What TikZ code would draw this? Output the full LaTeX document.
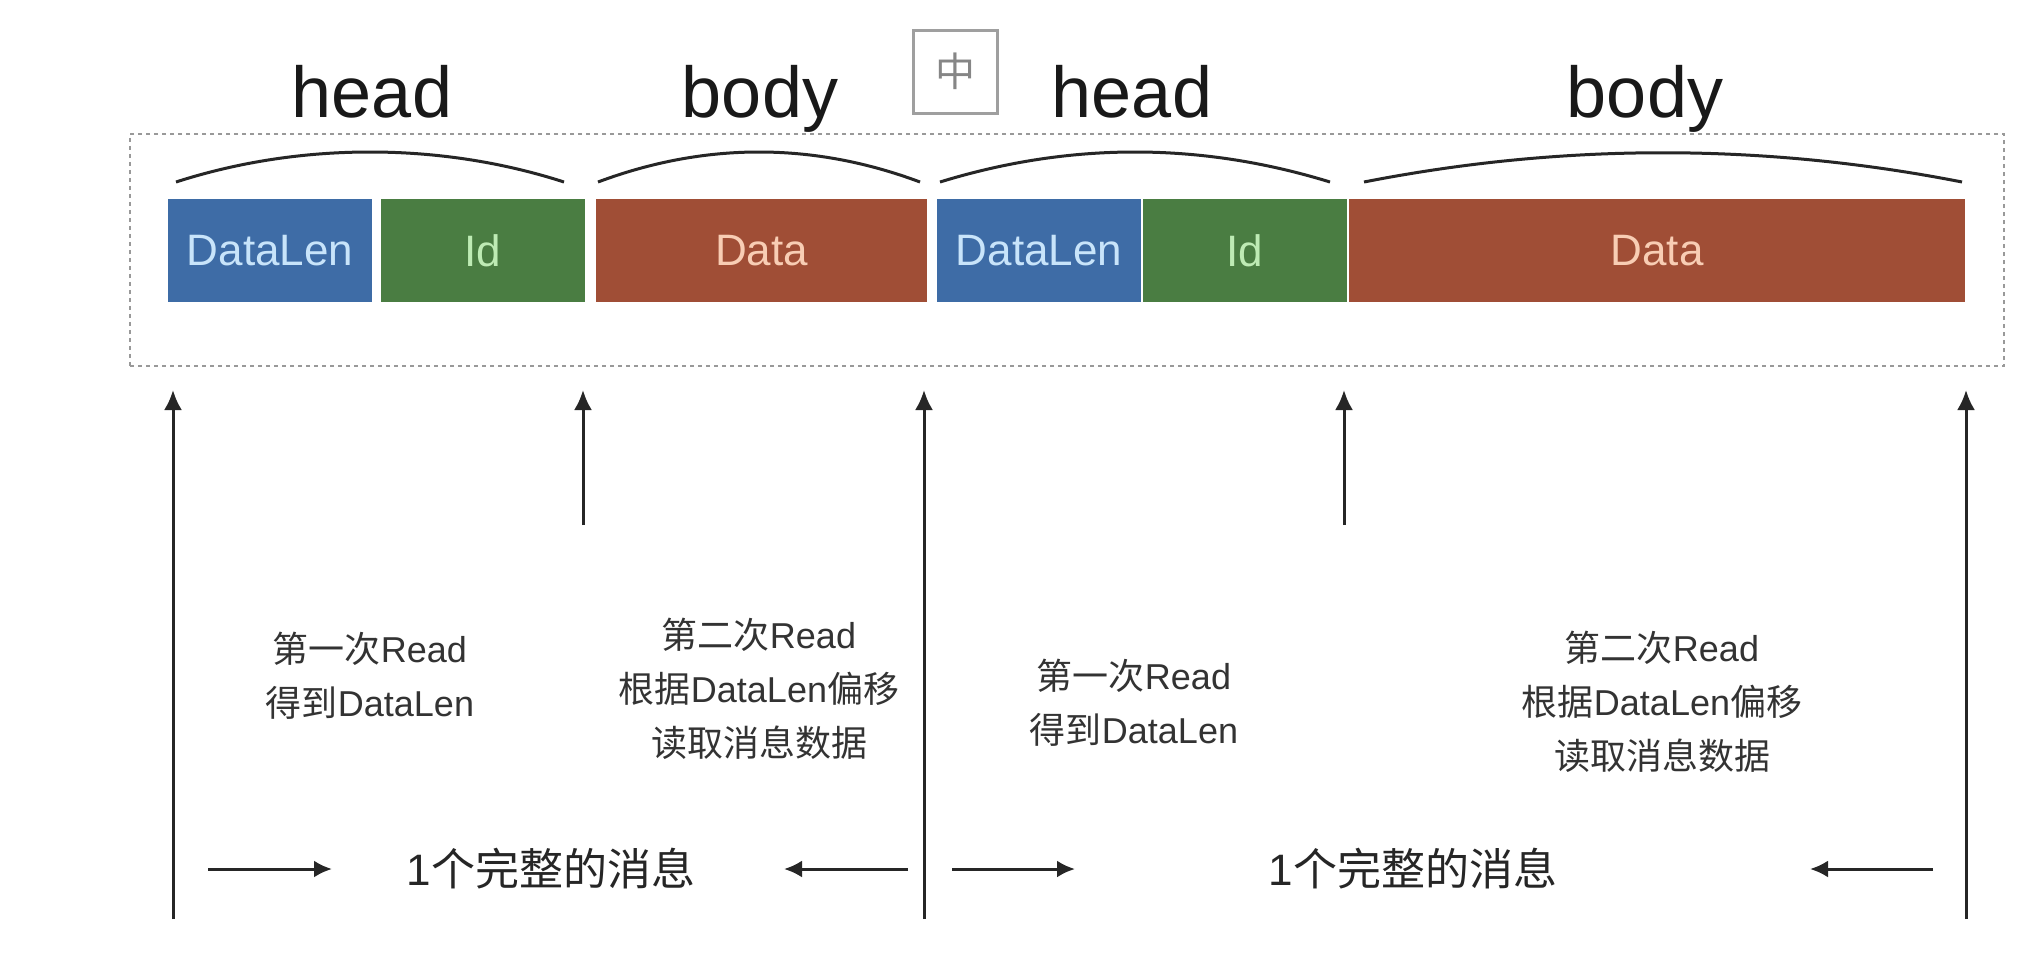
\documentclass[tikz,border=0pt]{standalone}
\usepackage{fontspec}
\setmainfont{Liberation Sans}
\newfontfamily\cjk{Noto Sans CJK SC}
\usetikzlibrary{arrows.meta}
\definecolor{cblue}{RGB}{62,108,166}
\definecolor{cgreen}{RGB}{74,125,66}
\definecolor{cred}{RGB}{160,78,54}
\definecolor{tblue}{RGB}{200,228,250}
\definecolor{tgreen}{RGB}{190,235,180}
\definecolor{tred}{RGB}{248,205,180}
\begin{document}
\begin{tikzpicture}[x=1pt,y=-1pt,
  seg/.style={inner sep=0pt, minimum height=103pt, font=\fontsize{44}{50}\selectfont},
  bl/.style={seg, fill=cblue, text=tblue},
  gr/.style={seg, fill=cgreen, text=tgreen},
  rd/.style={seg, fill=cred, text=tred},
  ttl/.style={font=\fontsize{72}{80}\selectfont, text=black!90, anchor=base},
  arcline/.style={line width=3pt, black!85},
  uparr/.style={line width=3pt, black!85, -{Latex[length=20pt,width=18pt]}},
  harr/.style={line width=3pt, black!85, -{Latex[length=18pt,width=17pt]}},
  lbl/.style={align=center, font=\fontsize{36}{54}\selectfont, text=black!80},
  msg/.style={font=\fontsize{44}{50}\selectfont, text=black!85}
]
\useasboundingbox (0,0) rectangle (2044,964);
\fill[white] (0,0) rectangle (2044,964);

% frame
\node (frame) [draw=gray!80, dash pattern=on 4pt off 4pt, line width=2pt,
  minimum width=1874pt, minimum height=232pt, inner sep=0pt] at (1067,250) {};

% titles
\node[ttl] (h1) at (372,117) {head};
\node[ttl] (b1) at (760,117) {body};
\node[ttl] (h2) at (1132,117) {head};
\node[ttl] (b2) at (1645,117) {body};
\node (ime) [draw=gray!75, line width=3pt, minimum width=84pt, minimum height=83pt, inner sep=0pt,
  text=gray!95, font=\cjk\fontsize{40}{40}\selectfont] at (955.5,71.5) {中};

% arcs
\draw[arcline] (176,182) .. controls (300,142) and (440,142) .. (564,182);
\draw[arcline] (598,182) .. controls (705,142) and (813,142) .. (920,182);
\draw[arcline] (940,182) .. controls (1070,142) and (1200,142) .. (1330,182);
\draw[arcline] (1364,182) .. controls (1563,143) and (1763,143) .. (1962,182);

% segments
\node[bl, minimum width=204pt] (dl1) at (270,250.5) {DataLen};
\node[gr, minimum width=204pt] (id1) at (483,250.5) {Id};
\node[rd, minimum width=331pt] (d1) at (761.5,250.5) {Data};
\node[bl, minimum width=204pt] (dl2) at (1039,250.5) {DataLen};
\node[gr, minimum width=204pt] (id2) at (1245,250.5) {Id};
\node[rd, minimum width=616pt] (d2) at (1657,250.5) {Data};

% up arrows
\coordinate (u1b) at (173,919); \coordinate (u1t) at (173,390);
\coordinate (u2b) at (583,525); \coordinate (u2t) at (583,390);
\coordinate (u3b) at (924,919); \coordinate (u3t) at (924,390);
\coordinate (u4b) at (1344,525); \coordinate (u4t) at (1344,390);
\coordinate (u5b) at (1966,919); \coordinate (u5t) at (1966,390);
\draw[uparr] (u1b) -- (u1t);
\draw[uparr] (u2b) -- (u2t);
\draw[uparr] (u3b) -- (u3t);
\draw[uparr] (u4b) -- (u4t);
\draw[uparr] (u5b) -- (u5t);

% labels
\node[lbl] (l1) at (370,676) {{\cjk 第一次}Read\\{\cjk 得到}DataLen};
\node[lbl] (l2) at (759,689) {{\cjk 第二次}Read\\{\cjk 根据}DataLen{\cjk 偏移}\\{\cjk 读取消息数据}};
\node[lbl] (l3) at (1134,703) {{\cjk 第一次}Read\\{\cjk 得到}DataLen};
\node[lbl] (l4) at (1662,702) {{\cjk 第二次}Read\\{\cjk 根据}DataLen{\cjk 偏移}\\{\cjk 读取消息数据}};

% messages
\node[msg] (m1) at (551,869) {1{\cjk 个完整的消息}};
\node[msg] (m2) at (1413,869) {1{\cjk 个完整的消息}};
\coordinate (a1s) at (208,869); \coordinate (a1e) at (332,869);
\coordinate (a2s) at (908,869); \coordinate (a2e) at (784,869);
\coordinate (a3s) at (952,869); \coordinate (a3e) at (1075,869);
\coordinate (a4s) at (1933,869); \coordinate (a4e) at (1810,869);
\draw[harr] (a1s) -- (a1e);
\draw[harr] (a2s) -- (a2e);
\draw[harr] (a3s) -- (a3e);
\draw[harr] (a4s) -- (a4e);
\end{tikzpicture}
\end{document}
